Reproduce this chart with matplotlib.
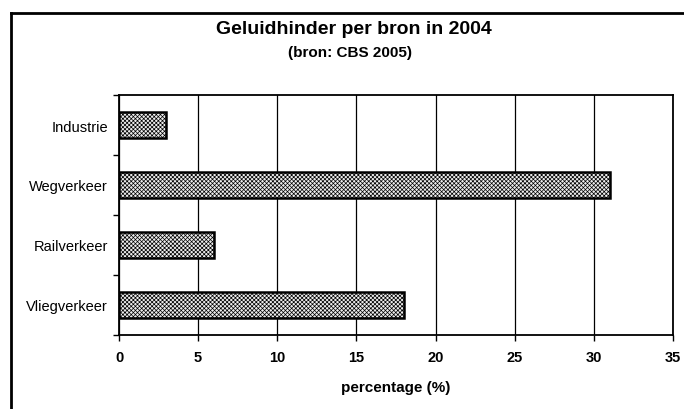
import matplotlib.pyplot as plt
from matplotlib.lines import Line2D
import numpy as np

plt.rcParams['font.family'] = ['Liberation Sans', 'DejaVu Sans']
plt.rcParams['hatch.linewidth'] = 0.5
plt.rcParams['hatch.color'] = '#8c8c8c'

# data (top to bottom as shown)
bronnen = ["Industrie", "Wegverkeer", "Railverkeer", "Vliegverkeer"]
percentage = [3, 31, 6, 18]
xticks = [0, 5, 10, 15, 20, 25, 30, 35]

fig = plt.figure(figsize=(6.84, 4.10), dpi=100)
ax = fig.add_axes([119/684, 1 - 336/410, (673 - 119)/684, (336 - 96)/410])

y = np.arange(len(bronnen))
ax.barh(y, percentage, height=0.42, color='#ececec', edgecolor='black',
        linewidth=1.8, hatch='xxxxxxxx', zorder=3)

ax.set_xlim(0, 35)
ax.set_ylim(len(bronnen) - 0.5, -0.5)
ax.set_xticks(xticks)
ax.set_xticklabels([str(t) for t in xticks], fontsize=10.5, fontweight='bold')
ax.set_yticks(y)
ax.set_yticklabels(bronnen, fontsize=10.5)
ax.set_yticks(np.arange(len(bronnen) + 1) - 0.5, minor=True)
ax.tick_params(axis='y', which='major', length=0, pad=8)
ax.tick_params(axis='y', which='minor', length=4, width=1, direction='out')
ax.tick_params(axis='x', length=4, width=1, direction='out', pad=7)

ax.grid(axis='x', color='black', linewidth=0.9, zorder=0)
for s in ax.spines.values():
    s.set_linewidth(1.3)

ax.set_xlabel("percentage (%)", fontsize=11, fontweight='bold', labelpad=11)

fig.text(354/684, 1 - 30/410, "Geluidhinder per bron in 2004",
         ha='center', va='center', fontsize=14, fontweight='bold')
fig.text(350/684, 1 - 53/410, "(bron: CBS 2005)",
         ha='center', va='center', fontsize=11, fontweight='bold')

# outer chart frame (left and top edges visible)
fig.add_artist(Line2D([11/684, 11/684], [0, 1 - 14/410], transform=fig.transFigure,
                      color='black', linewidth=2))
fig.add_artist(Line2D([11/684, 1], [1 - 14/410, 1 - 14/410], transform=fig.transFigure,
                      color='black', linewidth=2))

fig.savefig("out.png", dpi=100)
